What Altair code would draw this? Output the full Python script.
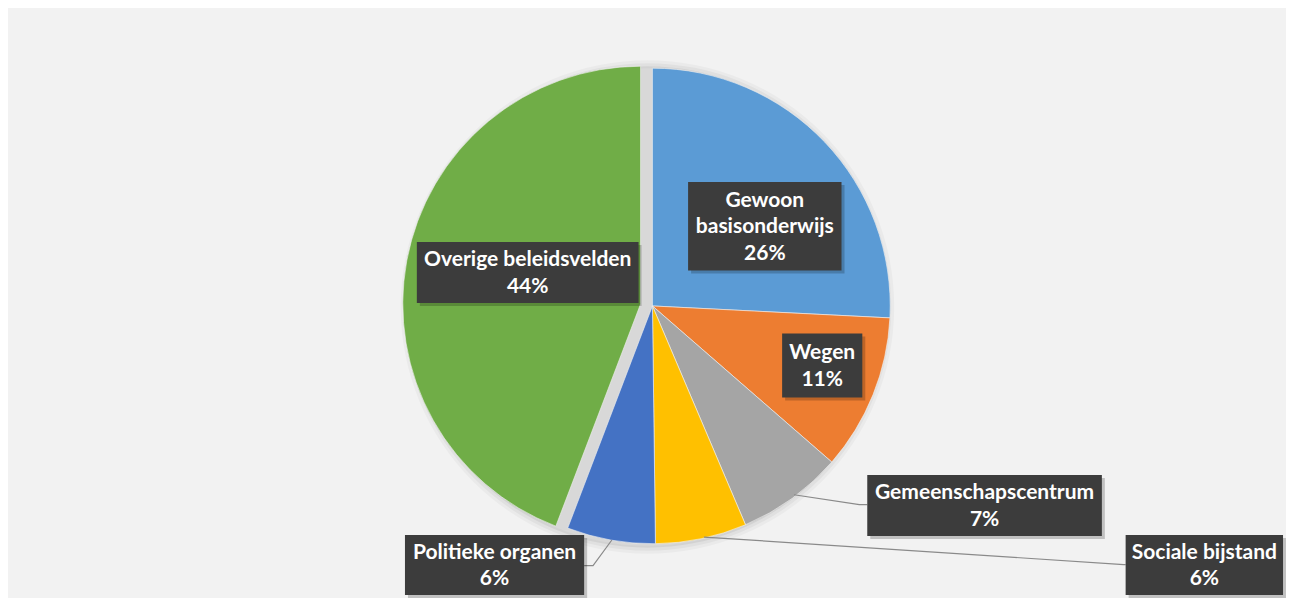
import math
import altair as alt
import pandas as pd

# ---- data ----
categories = ["Gewoon basisonderwijs", "Wegen", "Gemeenschapscentrum",
              "Sociale bijstand", "Politieke organen", "Overige beleidsvelden"]
shares = [25.8, 10.6, 7.2, 6.2, 6.0, 44.2]
label_names = ["Gewoon\nbasisonderwijs", "Wegen", "Gemeenschapscentrum",
               "Sociale bijstand", "Politieke organen", "Overige beleidsvelden"]
colors = ["#5b9bd5", "#ed7d31", "#a5a5a5", "#ffc000", "#4472c4", "#70ad47"]
exploded = "Overige beleidsvelden"

# ---- layout (reference pixel frame) ----
W, H = 1278, 590
X0, X1, Y0, Y1 = 3, 1294, 7, 607
sx = W / (X1 - X0)
sy = H / (Y1 - Y0)
def px(v): return (v - X0) * sx
def py(v): return (v - Y0) * sy

CX, CY, R = 654, 310, 241
EXPLODE_DX, EXPLODE_DY = -12, -2
LINE_H = 27  # reference px between text lines

box_x1 = [690, 785, 871, 1132, 404, 416]
box_x2 = [845, 866, 1108, 1291, 585, 640]
box_y1 = [184, 338, 482, 543, 543, 245]
box_y2 = [274, 403, 544, 604, 604, 307]

leaders = {
    "Gemeenschapscentrum": [(797, 502), (863, 512), (871, 512)],
    "Sociale bijstand": [(706, 545), (1130, 573), (1132, 573)],
    "Politieke organen": [(613, 548), (594, 574), (585, 574)],
}

# ---- tables ----
t0, acc = [], 0.0
for s in shares:
    t0.append(acc)
    acc += s
pie = pd.DataFrame({
    "category": categories,
    "share": shares,
    "t0": t0,
    "t1": [a + s for a, s in zip(t0, shares)],
})

texts = [f"{n}\n{round(s):d}%" for n, s in zip(label_names, shares)]
labels = pd.DataFrame({
    "category": categories,
    "text": texts,
    "x1": box_x1, "x2": box_x2, "y1": box_y1, "y2": box_y2,
})
labels["tx"] = (labels["x1"] + labels["x2"]) / 2
nlines = [t.count("\n") + 1 for t in texts]
labels["ty"] = [(a + b) / 2 - (n - 1) / 2 * LINE_H + 1
                for a, b, n in zip(box_y1, box_y2, nlines)]

rows = []
for cat, pts in leaders.items():
    for i, (x, y) in enumerate(pts):
        rows.append({"category": cat, "seq": i, "x": x, "y": y})
lines = pd.DataFrame(rows)

xs = alt.Scale(domain=[X0, X1], nice=False, zero=False)
ys = alt.Scale(domain=[Y0, Y1], nice=False, zero=False, reverse=True)
theta_scale = alt.Scale(domain=[0, 100], range=[0, 2 * math.pi])
color_scale = alt.Scale(domain=categories, range=colors)

Rp = R * (sx + sy) / 2
cx, cy = px(CX), py(CY)

# soft shadow / halo behind the pie
one = pd.DataFrame({"k": [0]})
halo_layers = []
for extra, op, col in [(9, 0.03, "black"), (6, 0.04, "black"), (3, 0.06, "black"), (1, 1.0, "#d8d8d8")]:
    halo_layers.append(
        alt.Chart(one).mark_arc(radius=Rp + extra, fill=col, opacity=op).encode(
            theta=alt.value(0), theta2=alt.value(2 * math.pi),
            x=alt.value(cx - 5), y=alt.value(cy + 1),
        )
    )

main_arcs = alt.Chart(pie).transform_filter(
    alt.datum.category != exploded
).mark_arc(radius=Rp, stroke="#f2f2f2", strokeWidth=0.6).encode(
    theta=alt.Theta("t0:Q", scale=theta_scale),
    theta2="t1:Q",
    color=alt.Color("category:N", scale=color_scale, legend=None),
    x=alt.value(cx), y=alt.value(cy),
)
green_arc = alt.Chart(pie).transform_filter(
    alt.datum.category == exploded
).mark_arc(radius=Rp, stroke="#f2f2f2", strokeWidth=0.6).encode(
    theta=alt.Theta("t0:Q", scale=theta_scale),
    theta2="t1:Q",
    color=alt.Color("category:N", scale=color_scale, legend=None),
    x=alt.value(cx + EXPLODE_DX * sx), y=alt.value(cy + EXPLODE_DY * sy),
)

leader = alt.Chart(lines).mark_line(color="#8a8a8a", strokeWidth=1.2).encode(
    x=alt.X("x:Q", scale=xs, axis=None),
    y=alt.Y("y:Q", scale=ys, axis=None),
    detail="category:N",
    order="seq:Q",
)

box_shadow = alt.Chart(labels).mark_rect(
    color="black", opacity=0.2, xOffset=3, x2Offset=3, yOffset=3, y2Offset=3
).encode(
    x=alt.X("x1:Q", scale=xs, axis=None), x2="x2:Q",
    y=alt.Y("y1:Q", scale=ys, axis=None), y2="y2:Q",
)
box = alt.Chart(labels).mark_rect(color="#3c3c3c").encode(
    x=alt.X("x1:Q", scale=xs, axis=None), x2="x2:Q",
    y=alt.Y("y1:Q", scale=ys, axis=None), y2="y2:Q",
)
text = alt.Chart(labels).mark_text(
    font="Lato", fontWeight="bold", fontSize=21, color="white",
    lineBreak="\n", lineHeight=LINE_H * sy, baseline="middle", align="center",
).encode(
    x=alt.X("tx:Q", scale=xs, axis=None),
    y=alt.Y("ty:Q", scale=ys, axis=None),
    text="text:N",
)

chart = alt.layer(
    *halo_layers, main_arcs, green_arc, leader, box_shadow, box, text
).properties(
    width=W, height=H, background="#f2f2f2", padding=0,
    autosize=alt.AutoSizeParams(type="none"),
).configure_view(stroke=None)

chart.save("out.html", embed_options={"renderer": "svg", "actions": False})
